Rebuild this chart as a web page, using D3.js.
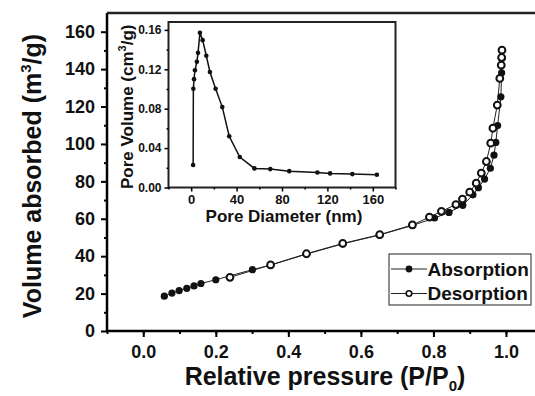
<!DOCTYPE html>
<html>
<head>
<meta charset="utf-8">
<script src="https://cdn.jsdelivr.net/npm/d3@7"></script>
<style>
    body { margin: 0; background: #fff; }
    svg { display: block; font-family: "Liberation Sans", Arial, sans-serif; font-weight: bold; }
</style>
</head>
<body>
<div id="chart"></div>
<script>
// Isotherm, absorption branch (filled dots).
const absorptionP = [0.058, 0.079, 0.099, 0.120, 0.140, 0.159, 0.200, 0.301, 0.351, 0.450, 0.550, 0.651, 0.742,
    0.803, 0.843, 0.881, 0.909, 0.924, 0.941, 0.957, 0.967, 0.972, 0.977, 0.986, 0.988, 0.990]
const absorptionV = [18.6, 20.3, 21.6, 22.8, 24.1, 25.4, 27.4, 32.8, 35.2, 41.1, 46.6, 51.3, 56.4,
    60.4, 63.4, 67.2, 72.8, 76.6, 81.2, 87.0, 94.0, 100.8, 109.8, 125.2, 138.0, 146.0]

// Isotherm, desorption branch (open dots).
const desorptionP = [0.239, 0.351, 0.450, 0.550, 0.652, 0.742, 0.789, 0.822, 0.862, 0.880, 0.900, 0.918, 0.932,
    0.946, 0.958, 0.964, 0.976, 0.983, 0.987, 0.988, 0.989]
const desorptionV = [28.7, 35.3, 41.3, 46.8, 51.5, 56.7, 60.9, 64.0, 67.6, 70.5, 74.2, 79.0, 84.4,
    90.6, 100.4, 108.4, 120.8, 135.0, 142.1, 146.2, 150.1]

// Inset: pore size distribution.
const poreDiameter = [1.7, 1.9, 2.5, 3.3, 5.0, 6.0, 7.7, 10.1, 13.3, 16.5, 21.5, 27.4, 33.5, 42.8, 55.7, 69.7,
    86.4, 111.2, 122.4, 142.0, 163.6]
const poreVolume = [0.0228, 0.1003, 0.110, 0.119, 0.1276, 0.1367, 0.157, 0.1496, 0.1337, 0.1173, 0.1003, 0.0816,
    0.052, 0.0309, 0.0194, 0.0187, 0.0166, 0.0153, 0.0143, 0.0136, 0.0129]

const xTicks = [0.0, 0.2, 0.4, 0.6, 0.8, 1.0]
const yTicks = [0, 20, 40, 60, 80, 100, 120, 140, 160]
const insetXTicks = [0, 40, 80, 120, 160]
const insetYTicks = [0.00, 0.04, 0.08, 0.12, 0.16]
const legendKeys = ['Absorption', 'Desorption']

class IsothermChart {
    constructor(_config) {
        this.config = {
            parentElement: _config.parentElement,
            containerWidth: _config.containerWidth,
            containerHeight: _config.containerHeight,
            plot: {left: 107, top: 13, bottom: 331},
            inset: {left: 168.5, right: 395.5, top: 22, bottom: 187.5},
            legend: {x: 389, y: 254, width: 142, height: 51}
        }
        this.initVis()
    }

    initVis() {
        let vis = this
        const p = vis.config.plot

        vis.svg = d3.select(vis.config.parentElement)
            .append('svg')
            .attr('width', vis.config.containerWidth)
            .attr('height', vis.config.containerHeight)

        vis.xScale = d3.scaleLinear().domain([-0.1, 1.1]).range([p.left, p.left + 1.2 * 362.7])
        vis.yScale = d3.scaleLinear().domain([0, 170]).range([p.bottom, p.top])

        const i = vis.config.inset
        vis.insetX = d3.scaleLinear().domain([-20, 180]).range([i.left, i.right])
        vis.insetY = d3.scaleLinear().domain([0, 0.168]).range([i.bottom, i.top])

        vis.renderVis()
        vis.renderInset()
        vis.renderLegend()
    }

    renderVis() {
        let vis = this
        const p = vis.config.plot

        // minor ticks first, then the major axes on top
        vis.svg.append('g')
            .attr('transform', `translate(0,${p.bottom})`)
            .call(d3.axisBottom(vis.xScale).tickValues(d3.range(-0.1, 1.05, 0.1)).tickSize(3).tickFormat(''))
            .call(g => g.select('.domain').remove())
            .selectAll('line').attr('stroke-width', 2)

        vis.svg.append('g')
            .attr('transform', `translate(${p.left},0)`)
            .call(d3.axisLeft(vis.yScale).tickValues(d3.range(10, 170, 20)).tickSize(3).tickFormat(''))
            .call(g => g.select('.domain').remove())
            .selectAll('line').attr('stroke-width', 2)

        const xAxis = vis.svg.append('g')
            .attr('transform', `translate(0,${p.bottom})`)
            .call(d3.axisBottom(vis.xScale).tickValues(xTicks).tickSize(6).tickPadding(8)
                .tickSizeOuter(0).tickFormat(d3.format('.1f')))
        xAxis.selectAll('text').attr('font-size', 18).attr('font-family', null).attr('fill', '#111')

        const yAxis = vis.svg.append('g')
            .attr('transform', `translate(${p.left},0)`)
            .call(d3.axisLeft(vis.yScale).tickValues(yTicks).tickSize(6).tickPadding(6).tickSizeOuter(0))
        yAxis.selectAll('text').attr('font-size', 18).attr('font-family', null).attr('fill', '#111')

        vis.svg.selectAll('.domain').attr('stroke-width', 2.5)
        vis.svg.selectAll('.tick line').attr('stroke-width', 2)

        // top frame line
        vis.svg.append('line')
            .attr('x1', p.left).attr('x2', 540)
            .attr('y1', p.top).attr('y2', p.top)
            .attr('stroke', '#222').attr('stroke-width', 2.5)
        // domain lines: stretch y up to the frame
        yAxis.select('.domain').attr('d', `M0,${p.bottom}V${p.top}`)
        xAxis.select('.domain').attr('d', `M${p.left},0H540`)

        vis.svg.append('text')
            .attr('x', 325).attr('y', 385)
            .attr('text-anchor', 'middle')
            .attr('font-size', 25)
            .attr('fill', '#111')
            .call(t => {
                t.append('tspan').text('Relative pressure (P/P')
                t.append('tspan').attr('font-size', 15).attr('dy', 6).text('0')
                t.append('tspan').attr('dy', -6).text(')')
            })

        vis.svg.append('text')
            .attr('transform', `translate(41,${(p.top + p.bottom) / 2 + 4}) rotate(-90)`)
            .attr('text-anchor', 'middle')
            .attr('font-size', 25)
            .attr('fill', '#111')
            .call(t => {
                t.append('tspan').text('Volume absorbed (m')
                t.append('tspan').attr('font-size', 15).attr('dy', -10).text('3')
                t.append('tspan').attr('dy', 10).text('/g)')
            })

        const absorption = absorptionP.map((d, k) => [d, absorptionV[k]])
        const desorption = desorptionP.map((d, k) => [d, desorptionV[k]])
        const line = d3.line().x(d => vis.xScale(d[0])).y(d => vis.yScale(d[1]))

        vis.svg.append('path').datum(absorption)
            .attr('d', line).attr('fill', 'none').attr('stroke', '#222').attr('stroke-width', 1)
        vis.svg.append('path').datum(desorption)
            .attr('d', line).attr('fill', 'none').attr('stroke', '#222').attr('stroke-width', 1)

        vis.svg.selectAll('.abs-dot')
            .data(absorption)
            .join('circle')
            .attr('class', 'abs-dot')
            .attr('cx', d => vis.xScale(d[0]))
            .attr('cy', d => vis.yScale(d[1]))
            .attr('r', 3.6)
            .attr('fill', '#111')

        vis.svg.selectAll('.des-dot')
            .data(desorption)
            .join('circle')
            .attr('class', 'des-dot')
            .attr('cx', d => vis.xScale(d[0]))
            .attr('cy', d => vis.yScale(d[1]))
            .attr('r', 3.4)
            .attr('fill', 'white')
            .attr('stroke', '#111')
            .attr('stroke-width', 2)
    }

    renderInset() {
        let vis = this
        const i = vis.config.inset
        const g = vis.svg.append('g').attr('class', 'inset')

        g.append('rect')
            .attr('x', i.left).attr('y', i.top)
            .attr('width', i.right - i.left).attr('height', i.bottom - i.top)
            .attr('fill', 'white').attr('stroke', '#222').attr('stroke-width', 2)

        g.append('g')
            .attr('transform', `translate(0,${i.bottom})`)
            .call(d3.axisBottom(vis.insetX).tickValues([-20, 20, 60, 100, 140, 180]).tickSize(2).tickFormat(''))
            .call(a => a.select('.domain').remove())
        g.append('g')
            .attr('transform', `translate(${i.left},0)`)
            .call(d3.axisLeft(vis.insetY).tickValues([0.02, 0.06, 0.10, 0.14]).tickSize(2).tickFormat(''))
            .call(a => a.select('.domain').remove())

        const ix = g.append('g')
            .attr('transform', `translate(0,${i.bottom})`)
            .call(d3.axisBottom(vis.insetX).tickValues(insetXTicks).tickSize(4).tickPadding(3))
        ix.select('.domain').remove()
        ix.selectAll('text').attr('font-size', 13).attr('font-family', null).attr('fill', '#111')

        const iy = g.append('g')
            .attr('transform', `translate(${i.left},0)`)
            .call(d3.axisLeft(vis.insetY).tickValues(insetYTicks).tickSize(4).tickPadding(3).tickFormat(d3.format('.2f')))
        iy.select('.domain').remove()
        iy.selectAll('text').attr('font-size', 12).attr('font-family', null).attr('fill', '#111')
        g.selectAll('.tick line').attr('stroke-width', 1.5)

        g.append('text')
            .attr('x', (i.left + i.right) / 2 + 2).attr('y', 222)
            .attr('text-anchor', 'middle')
            .attr('font-size', 17)
            .attr('fill', '#111')
            .text('Pore Diameter (nm)')

        g.append('text')
            .attr('transform', `translate(133,${(i.top + i.bottom) / 2 + 2}) rotate(-90)`)
            .attr('text-anchor', 'middle')
            .attr('font-size', 17)
            .attr('fill', '#111')
            .call(t => {
                t.append('tspan').text('Pore Volume (cm')
                t.append('tspan').attr('font-size', 11).attr('dy', -7).text('3')
                t.append('tspan').attr('dy', 7).text('/g)')
            })

        const pores = poreDiameter.map((d, k) => [d, poreVolume[k]])
        g.append('path').datum(pores)
            .attr('d', d3.line().x(d => vis.insetX(d[0])).y(d => vis.insetY(d[1])))
            .attr('fill', 'none').attr('stroke', '#111').attr('stroke-width', 1.5)

        g.selectAll('.pore-dot')
            .data(pores)
            .join('circle')
            .attr('class', 'pore-dot')
            .attr('cx', d => vis.insetX(d[0]))
            .attr('cy', d => vis.insetY(d[1]))
            .attr('r', 2.3)
            .attr('fill', '#111')
    }

    renderLegend() {
        let vis = this
        const l = vis.config.legend

        const legend = vis.svg.append('g').attr('transform', `translate(${l.x},${l.y})`)
        legend.append('rect')
            .attr('width', l.width).attr('height', l.height)
            .attr('fill', 'white').attr('stroke', '#222').attr('stroke-width', 1)

        const rows = legend.selectAll('.legend-row')
            .data(legendKeys)
            .join('g')
            .attr('class', 'legend-row')
            .attr('transform', (d, k) => `translate(0,${15 + k * 24.5})`)

        rows.append('line')
            .attr('x1', 2).attr('x2', 38)
            .attr('stroke', '#222').attr('stroke-width', 1)
        rows.append('circle')
            .attr('cx', 20)
            .attr('r', d => d === 'Absorption' ? 3.4 : 2.8)
            .attr('fill', d => d === 'Absorption' ? '#111' : 'white')
            .attr('stroke', '#111')
            .attr('stroke-width', d => d === 'Absorption' ? 0 : 1.6)
        rows.append('text')
            .attr('x', 38.5).attr('y', 6.5)
            .attr('font-size', 19)
            .attr('fill', '#111')
            .text(d => d)
    }
}

new IsothermChart({parentElement: '#chart', containerWidth: 535, containerHeight: 396})
</script>
</body>
</html>
